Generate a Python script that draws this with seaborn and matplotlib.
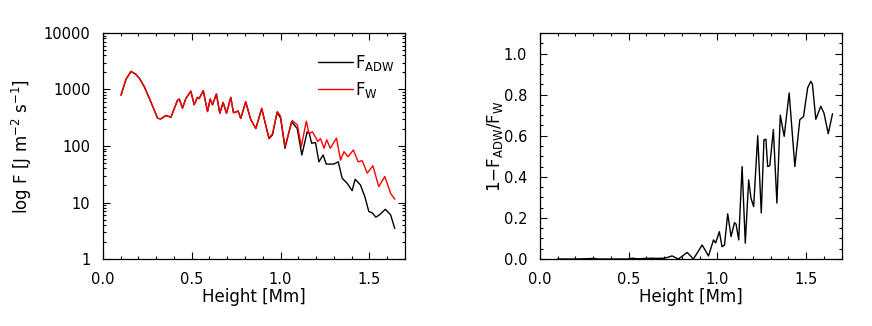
import matplotlib
matplotlib.use("Agg")
import matplotlib.pyplot as plt
import numpy as np
import pandas as pd
import seaborn as sns
from matplotlib.ticker import MultipleLocator, LogLocator, NullFormatter, FixedFormatter, FixedLocator

# wave energy flux F_W (red)
fw_height = [0.102, 0.130, 0.158, 0.185, 0.205, 0.233, 0.270, 0.308, 0.326, 0.355, 0.383,
             0.420, 0.430, 0.448, 0.467, 0.495, 0.514, 0.532, 0.542, 0.565, 0.589, 0.604,
             0.617, 0.639, 0.658, 0.677, 0.696, 0.720, 0.735, 0.748, 0.761, 0.776, 0.804,
             0.832, 0.861, 0.894, 0.935, 0.955, 0.982, 1.000, 1.025, 1.066, 1.095, 1.117,
             1.145, 1.160, 1.180, 1.210, 1.225, 1.245, 1.260, 1.280, 1.315, 1.338, 1.357,
             1.380, 1.410, 1.437, 1.460, 1.488, 1.520, 1.553, 1.587, 1.620, 1.643]
fw_log = [2.90, 3.18, 3.32, 3.27, 3.20, 3.05, 2.78, 2.49, 2.48, 2.54, 2.51,
          2.81, 2.83, 2.67, 2.84, 2.97, 2.73, 2.86, 2.84, 2.98, 2.61, 2.83,
          2.73, 2.92, 2.58, 2.77, 2.58, 2.86, 2.59, 2.60, 2.62, 2.49, 2.78,
          2.47, 2.31, 2.67, 2.14, 2.22, 2.61, 2.53, 1.99, 2.45, 2.37, 1.99,
          2.44, 2.22, 2.25, 2.08, 2.13, 1.96, 2.11, 1.96, 2.14, 1.75, 1.90,
          1.81, 1.93, 1.72, 1.74, 1.52, 1.65, 1.28, 1.46, 1.16, 1.06]

# alfven-wave damping flux F_ADW (black)
fadw_height = [0.102, 0.130, 0.158, 0.185, 0.205, 0.233, 0.270, 0.308, 0.326, 0.355, 0.383,
               0.420, 0.430, 0.448, 0.467, 0.495, 0.514, 0.532, 0.542, 0.565, 0.589, 0.604,
               0.617, 0.639, 0.658, 0.677, 0.696, 0.720, 0.735, 0.748, 0.761, 0.776, 0.804,
               0.832, 0.861, 0.894, 0.935, 0.955, 0.980, 1.000, 1.025, 1.062, 1.094, 1.120,
               1.150, 1.162, 1.175, 1.197, 1.216, 1.240, 1.257, 1.300, 1.325, 1.347, 1.375,
               1.403, 1.420, 1.450, 1.475, 1.497, 1.515, 1.537, 1.560, 1.590, 1.620, 1.643]
fadw_log = [2.90, 3.18, 3.32, 3.27, 3.20, 3.05, 2.78, 2.49, 2.48, 2.54, 2.51,
            2.81, 2.83, 2.67, 2.84, 2.97, 2.73, 2.86, 2.84, 2.98, 2.61, 2.83,
            2.73, 2.92, 2.58, 2.77, 2.58, 2.86, 2.59, 2.60, 2.62, 2.49, 2.78,
            2.47, 2.31, 2.66, 2.13, 2.20, 2.59, 2.50, 1.96, 2.43, 2.31, 1.84,
            2.25, 2.22, 2.05, 2.06, 1.72, 1.84, 1.68, 1.68, 1.72, 1.43, 1.34,
            1.21, 1.41, 1.31, 1.10, 0.84, 0.82, 0.74, 0.79, 0.88, 0.78, 0.54]

# 1 - F_ADW/F_W (right panel)
ratio_height = [0.10, 0.20, 0.28, 0.30, 0.33, 0.45, 0.50, 0.52, 0.55, 0.60, 0.63, 0.66,
                0.70, 0.72, 0.745, 0.78, 0.83, 0.865, 0.914, 0.950, 0.978, 0.990, 1.011,
                1.026, 1.040, 1.058, 1.077, 1.096, 1.105, 1.120, 1.139, 1.157, 1.176, 1.189,
                1.204, 1.227, 1.247, 1.262, 1.273, 1.283, 1.295, 1.315, 1.335, 1.354, 1.376,
                1.404, 1.436, 1.464, 1.485, 1.508, 1.526, 1.535, 1.554, 1.582, 1.600, 1.624,
                1.648]
ratio_value = [0.000, 0.000, 0.002, 0.003, 0.000, 0.000, 0.000, 0.004, 0.001, 0.003, 0.004, 0.003,
               0.004, 0.008, 0.015, 0.000, 0.032, 0.000, 0.068, 0.015, 0.093, 0.078, 0.133,
               0.060, 0.068, 0.220, 0.109, 0.177, 0.170, 0.093, 0.450, 0.077, 0.385, 0.296,
               0.255, 0.600, 0.224, 0.580, 0.583, 0.450, 0.454, 0.630, 0.272, 0.700, 0.597,
               0.808, 0.450, 0.678, 0.694, 0.833, 0.865, 0.850, 0.680, 0.743, 0.710, 0.610,
               0.707]

left_ylabel = r"log F [J m$^{-2}$ s$^{-1}$]"
right_ylabel = r"1$-$F$_{\rm ADW}$/F$_{\rm W}$"
xlabel = "Height [Mm]"

sns.set_style("ticks")
plt.rcParams["font.family"] = ["DejaVu Sans"]
plt.rcParams["mathtext.fontset"] = "dejavusans"
plt.rcParams["font.size"] = 12
for key in ("text.color", "axes.labelcolor", "xtick.color", "ytick.color", "axes.edgecolor"):
    plt.rcParams[key] = "black"

fig = plt.figure(figsize=(8.72, 3.26), dpi=100)
ax1 = fig.add_axes([0.118, 0.2055, 0.3463, 0.6933])
ax2 = fig.add_axes([0.619, 0.2055, 0.3463, 0.6933])

flux = pd.DataFrame({"height": fadw_height, "F": np.power(10.0, fadw_log)})
flux_w = pd.DataFrame({"height": fw_height, "F": np.power(10.0, fw_log)})
sns.lineplot(data=flux, x="height", y="F", color="black", lw=1.0, ax=ax1,
             label=r"F$_{\rm ADW}$", estimator=None)
sns.lineplot(data=flux_w, x="height", y="F", color="red", lw=1.0, ax=ax1,
             label=r"F$_{\rm W}$", estimator=None)
ax1.set_yscale("log")
ax1.set_ylim(1, 10000)
ax1.set_xlim(0, 1.7)
ax1.yaxis.set_major_locator(FixedLocator([1, 10, 100, 1000, 10000]))
ax1.yaxis.set_major_formatter(FixedFormatter(["1", "10", "100", "1000", "10000"]))
ax1.yaxis.set_minor_locator(LogLocator(base=10, subs=np.arange(2, 10)))
ax1.yaxis.set_minor_formatter(NullFormatter())
ax1.set_ylabel(left_ylabel, labelpad=7)
ax1.legend(loc="upper left", bbox_to_anchor=(0.69, 0.94), frameon=False,
           handlelength=2.1, handletextpad=0.1, labelspacing=0.4, fontsize=12,
           borderaxespad=0)

ratio = pd.DataFrame({"height": ratio_height, "r": ratio_value})
sns.lineplot(data=ratio, x="height", y="r", color="black", lw=1.0, ax=ax2, estimator=None)
ax2.set_xlim(0, 1.7)
ax2.set_ylim(0, 1.1)
ax2.yaxis.set_major_locator(MultipleLocator(0.2))
ax2.yaxis.set_minor_locator(MultipleLocator(0.05))
ax2.yaxis.set_major_formatter(matplotlib.ticker.FormatStrFormatter("%.1f"))
ax2.set_ylabel(right_ylabel, labelpad=-1)

for ax in (ax1, ax2):
    ax.xaxis.set_major_locator(MultipleLocator(0.5))
    ax.xaxis.set_minor_locator(MultipleLocator(0.1))
    ax.xaxis.set_major_formatter(matplotlib.ticker.FormatStrFormatter("%.1f"))
    ax.set_xlabel(xlabel, labelpad=1)
    ax.tick_params(which="both", direction="in", top=True, right=True, width=0.8)
    ax.tick_params(which="major", length=5, pad=9, labelsize=10.5)
    ax.tick_params(which="minor", length=2.5)
    for s in ax.spines.values():
        s.set_visible(True)
        s.set_linewidth(0.9)

fig.savefig("out.png", dpi=100)
